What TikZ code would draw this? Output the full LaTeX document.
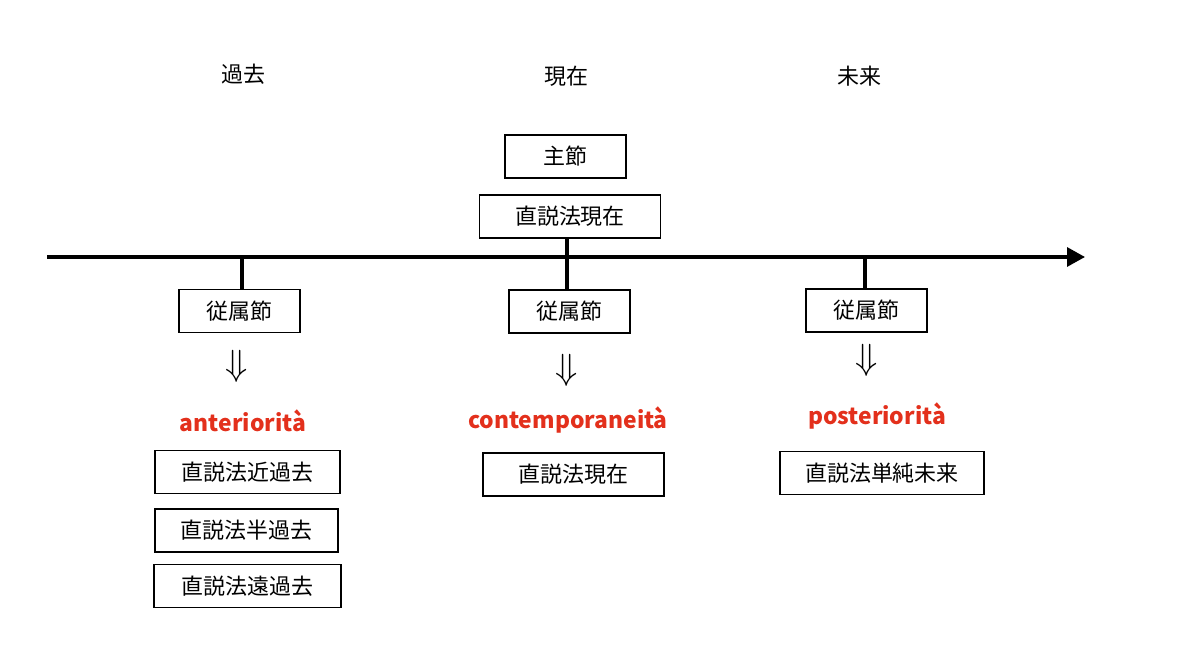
\documentclass[tikz,border=0pt]{standalone}
\usepackage{fontspec}
\setmainfont{Noto Sans CJK JP}
\usepackage{xcolor}
\usepackage{tikz}
\usetikzlibrary{arrows.meta}
\definecolor{accent}{HTML}{E3301C}
\tikzset{
  box/.style={draw=black, line width=1.1pt, minimum height=0.86cm, inner sep=0pt, font=\fontsize{12.5}{14}\selectfont},
  axis/.style={line width=1.8pt, -{Triangle[length=0.36cm, width=0.38cm]}},
  tick/.style={line width=1.8pt},
  lab/.style={font=\fontsize{12.5}{14}\selectfont},
  redlab/.style={text=accent, font=\fontsize{13}{15}\selectfont\bfseries},
  dn/.style={font=\fontsize{20}{22}\selectfont},
}

\begin{document}
\begin{tikzpicture}[x=0.02cm, y=-0.02cm]
  \useasboundingbox (0,0) rectangle (1200,648);

  \node[lab] (past) at (243,74) {過去};
  \node[lab] (now) at (566,76) {現在};
  \node[lab] (future) at (859,76) {未来};

  \node[box, minimum width=2.42cm] (main) at (565.5,156.5) {主節};
  \node[box, minimum width=3.62cm] (pres) at (570,216.5) {直説法現在};

  \coordinate (start) at (47,257);
  \coordinate (end) at (1085,257);
  \draw[axis] (start) -- (end);

  \node[box, minimum width=2.42cm] (sub1) at (239.5,311) {従属節};
  \node[box, minimum width=2.42cm] (sub2) at (569.5,311.5) {従属節};
  \node[box, minimum width=2.42cm] (sub3) at (866.5,310.5) {従属節};

  \draw[tick] (sub1.north -| 242,0) -- (242,257);
  \draw[tick] (pres.south -| 567,0) -- (sub2.north -| 567,0);
  \draw[tick] (sub3.north -| 865,0) -- (865,257);

  \node[dn] (d1) at (237,366) {$\Downarrow$};
  \node[dn] (d2) at (567,370) {$\Downarrow$};
  \node[dn] (d3) at (867,360) {$\Downarrow$};

  \node[redlab] (ant) at (243,421) {anteriorità};
  \node[redlab] (con) at (568,420) {contemporaneità};
  \node[redlab] (pos) at (877,416) {posteriorità};

  \node[box, minimum width=3.7cm] (pp) at (247.5,472) {直説法近過去};
  \node[box, minimum width=3.66cm] (imp) at (246.5,530.5) {直説法半過去};
  \node[box, minimum width=3.74cm] (rem) at (247.5,586) {直説法遠過去};
  \node[box, minimum width=3.62cm] (pres2) at (573.5,474.5) {直説法現在};
  \node[box, minimum width=4.08cm] (fut) at (882,473) {直説法単純未来};
\end{tikzpicture}
\end{document}
